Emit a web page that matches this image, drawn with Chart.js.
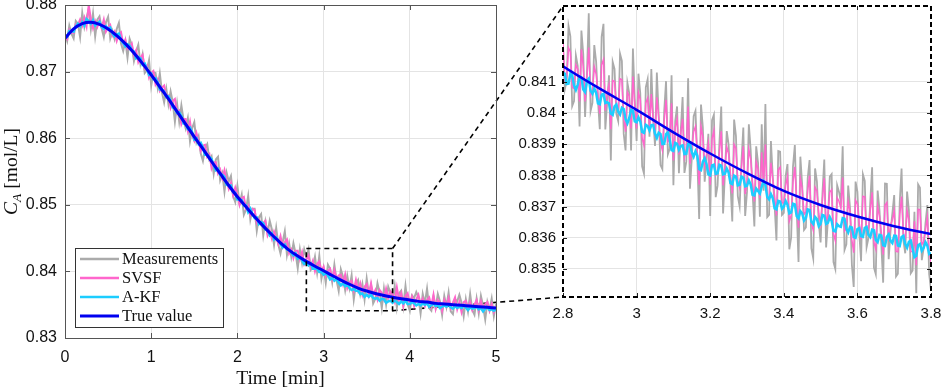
<!DOCTYPE html>
<html>
<head>
<meta charset="utf-8">
<script src="https://cdn.jsdelivr.net/npm/chart.js@4.4.1/dist/chart.umd.min.js"></script>
<style>
  html, body { margin: 0; padding: 0; background: #fff; }
  #wrap { position: relative; width: 941px; height: 389px; }
  #wrap canvas { position: absolute; left: 0; top: 0; }
</style>
</head>
<body>
<div id="wrap">
  <canvas id="mainChart" width="941" height="389"></canvas>
  <canvas id="zoomChart" width="941" height="389"></canvas>
</div>
<script>
// ---- data ----
const seriesLabels = ['Measurements', 'SVSF', 'A-KF', 'True value'];

// true concentration, one value every 0.1 min from 0 to 5
const trueStep = 0.1;
const trueValue = [
  0.8750, 0.8764, 0.8772, 0.8774, 0.8771, 0.8764, 0.8754, 0.8742, 0.8728, 0.8712,
  0.8695, 0.8677, 0.8659, 0.8640, 0.8621, 0.8602, 0.8584, 0.8565, 0.8547, 0.8529,
  0.8512, 0.8497, 0.8482, 0.8468, 0.8455, 0.8443, 0.8432, 0.8423, 0.84150, 0.84078,
  0.84010, 0.83938, 0.83870, 0.83807, 0.83750, 0.83705, 0.83668, 0.83637, 0.83612, 0.8359,
  0.8357, 0.8355, 0.8354, 0.8352, 0.8351, 0.8350, 0.8349, 0.8348, 0.8347, 0.8346,
  0.8345
];

// full run, one sample every 0.025 min
const mainStep = 0.025;
const mainMeas = [
  0.8756, 0.8746, 0.8769, 0.8757, 0.8750, 0.8776, 0.8772, 0.8752,
  0.8788, 0.8767, 0.8781, 0.8794, 0.8764, 0.8787, 0.8753, 0.8778,
  0.8783, 0.8765, 0.8752, 0.8774, 0.8782, 0.8750, 0.8761, 0.8749,
  0.8764, 0.8773, 0.8742, 0.8731, 0.8746, 0.8721, 0.8749, 0.8740,
  0.8716, 0.8730, 0.8740, 0.8712, 0.8726, 0.8698, 0.8702, 0.8717,
  0.8679, 0.8699, 0.8698, 0.8676, 0.8697, 0.8669, 0.8654, 0.8674,
  0.8651, 0.8670, 0.8654, 0.8625, 0.8652, 0.8625, 0.8649, 0.8628,
  0.8615, 0.8630, 0.8596, 0.8615, 0.8624, 0.8594, 0.8603, 0.8577,
  0.8566, 0.8585, 0.8591, 0.8568, 0.8573, 0.8547, 0.8568, 0.8572,
  0.8537, 0.8547, 0.8520, 0.8548, 0.8535, 0.8543, 0.8513, 0.8504,
  0.8528, 0.8502, 0.8515, 0.8485, 0.8493, 0.8513, 0.8478, 0.8494,
  0.8494, 0.8461, 0.8481, 0.8486, 0.8454, 0.8475, 0.8458, 0.8476,
  0.8463, 0.8440, 0.8465, 0.8440, 0.8427, 0.8444, 0.8460, 0.8425,
  0.8442, 0.8422, 0.8442, 0.8427, 0.8405, 0.8433, 0.8413, 0.8433,
  0.8421, 0.8433, 0.8402, 0.8406, 0.8422, 0.8398, 0.8423, 0.8389,
  0.8405, 0.8383, 0.8410, 0.8404, 0.8384, 0.8410, 0.8387, 0.8371,
  0.8403, 0.8392, 0.8372, 0.8393, 0.8375, 0.8394, 0.8358, 0.8381,
  0.8387, 0.8366, 0.8381, 0.8358, 0.8389, 0.8366, 0.8379, 0.8352,
  0.8359, 0.8382, 0.8368, 0.8345, 0.8374, 0.8351, 0.8377, 0.8368,
  0.8357, 0.8378, 0.8346, 0.8367, 0.8371, 0.8348, 0.8378, 0.8351,
  0.8341, 0.8364, 0.8360, 0.8369, 0.8361, 0.8337, 0.8366, 0.8352,
  0.8374, 0.8345, 0.8341, 0.8362, 0.8346, 0.8366, 0.8355, 0.8335,
  0.8363, 0.8347, 0.8368, 0.8340, 0.8336, 0.8358, 0.8355, 0.8365,
  0.8353, 0.8333, 0.8358, 0.8340, 0.8366, 0.8342, 0.8335, 0.8359,
  0.8337, 0.8363, 0.8348, 0.8328, 0.8354, 0.8342, 0.8359, 0.8333,
  0.8351
];
const mainSvsf = [
  0.8753, 0.8749, 0.8763, 0.8759, 0.8758, 0.8771, 0.8770, 0.8778,
  0.8769, 0.8781, 0.8768, 0.8800, 0.8779, 0.8765, 0.8776, 0.8767,
  0.8777, 0.8766, 0.8778, 0.8760, 0.8766, 0.8770, 0.8754, 0.8760,
  0.8746, 0.8756, 0.8759, 0.8742, 0.8748, 0.8734, 0.8737, 0.8742,
  0.8725, 0.8732, 0.8714, 0.8721, 0.8725, 0.8705, 0.8709, 0.8691,
  0.8698, 0.8701, 0.8681, 0.8688, 0.8671, 0.8676, 0.8679, 0.8662,
  0.8664, 0.8646, 0.8656, 0.8659, 0.8637, 0.8641, 0.8621, 0.8629,
  0.8629, 0.8611, 0.8625, 0.8604, 0.8596, 0.8608, 0.8595, 0.8581,
  0.8589, 0.8590, 0.8572, 0.8576, 0.8555, 0.8564, 0.8564, 0.8547,
  0.8553, 0.8540, 0.8552, 0.8536, 0.8524, 0.8533, 0.8515, 0.8526,
  0.8515, 0.8500, 0.8510, 0.8512, 0.8494, 0.8499, 0.8485, 0.8494,
  0.8492, 0.8473, 0.8478, 0.8470, 0.8473, 0.8476, 0.8454, 0.8461,
  0.8449, 0.8460, 0.8451, 0.8441, 0.8453, 0.8437, 0.8444, 0.8448,
  0.8427, 0.8433, 0.8420, 0.8431, 0.8431, 0.8418, 0.8429, 0.8411,
  0.8418, 0.8424, 0.8407, 0.8416, 0.8400, 0.8411, 0.8415, 0.8400,
  0.8407, 0.8393, 0.8401, 0.8404, 0.8389, 0.8402, 0.8389, 0.8394,
  0.8395, 0.8381, 0.8395, 0.8375, 0.8384, 0.8386, 0.8372, 0.8387,
  0.8372, 0.8382, 0.8365, 0.8377, 0.8381, 0.8365, 0.8382, 0.8365,
  0.8372, 0.8358, 0.8372, 0.8368, 0.8358, 0.8374, 0.8360, 0.8370,
  0.8366, 0.8355, 0.8376, 0.8357, 0.8367, 0.8348, 0.8363, 0.8367,
  0.8352, 0.8362, 0.8348, 0.8358, 0.8365, 0.8352, 0.8359, 0.8348,
  0.8357, 0.8361, 0.8348, 0.8365, 0.8344, 0.8357, 0.8353, 0.8341,
  0.8357, 0.8348, 0.8360, 0.8345, 0.8353, 0.8361, 0.8343, 0.8354,
  0.8339, 0.8354, 0.8356, 0.8345, 0.8354, 0.8342, 0.8350, 0.8357,
  0.8342, 0.8355, 0.8343, 0.8351, 0.8354, 0.8341, 0.8351, 0.8339,
  0.8348
];
const mainAkf = [
  0.8752, 0.8752, 0.8761, 0.8761, 0.8760, 0.8768, 0.8772, 0.8768,
  0.8774, 0.8769, 0.8779, 0.8776, 0.8772, 0.8777, 0.8769, 0.8772,
  0.8775, 0.8767, 0.8764, 0.8768, 0.8764, 0.8766, 0.8757, 0.8753,
  0.8756, 0.8757, 0.8748, 0.8743, 0.8738, 0.8741, 0.8739, 0.8732,
  0.8730, 0.8720, 0.8722, 0.8720, 0.8710, 0.8712, 0.8704, 0.8695,
  0.8697, 0.8689, 0.8690, 0.8684, 0.8673, 0.8673, 0.8670, 0.8662,
  0.8663, 0.8656, 0.8646, 0.8645, 0.8638, 0.8639, 0.8633, 0.8622,
  0.8621, 0.8614, 0.8616, 0.8609, 0.8598, 0.8600, 0.8591, 0.8593,
  0.8586, 0.8575, 0.8575, 0.8572, 0.8569, 0.8559, 0.8552, 0.8554,
  0.8545, 0.8545, 0.8542, 0.8530, 0.8529, 0.8529, 0.8519, 0.8518,
  0.8508, 0.8508, 0.8507, 0.8499, 0.8499, 0.8489, 0.8494, 0.8486,
  0.8480, 0.8481, 0.8471, 0.8474, 0.8472, 0.8463, 0.8462, 0.8454,
  0.8457, 0.8448, 0.8451, 0.8446, 0.8441, 0.8436, 0.8440, 0.8433,
  0.8432, 0.8428, 0.8424, 0.8427, 0.8419, 0.8421, 0.8417, 0.8411,
  0.8413, 0.8409, 0.8412, 0.8404, 0.8404, 0.8404, 0.8399, 0.8399,
  0.8395, 0.8397, 0.8394, 0.8388, 0.8390, 0.8386, 0.8389, 0.8383,
  0.8379, 0.8382, 0.8378, 0.8381, 0.8375, 0.8372, 0.8374, 0.8371,
  0.8371, 0.8366, 0.8367, 0.8362, 0.8365, 0.8362, 0.8365, 0.8360,
  0.8359, 0.8360, 0.8356, 0.8359, 0.8358, 0.8353, 0.8355, 0.8356,
  0.8353, 0.8356, 0.8354, 0.8351, 0.8355, 0.8352, 0.8356, 0.8351,
  0.8351, 0.8354, 0.8352, 0.8349, 0.8351, 0.8349, 0.8352, 0.8350,
  0.8352, 0.8347, 0.8349, 0.8352, 0.8348, 0.8350, 0.8345, 0.8347,
  0.8349, 0.8347, 0.8350, 0.8346, 0.8344, 0.8348, 0.8345, 0.8347,
  0.8345, 0.8349, 0.8346, 0.8342, 0.8346, 0.8344, 0.8345, 0.8347,
  0.8343, 0.8345, 0.8340, 0.8344, 0.8346, 0.8342, 0.8343, 0.8341,
  0.8343
];

// zoomed window 2.8 - 3.8 min, one sample every 0.005 min
const zoomStart = 2.8;
const zoomStep = 0.005;
const zoomMeas = [
  0.84210, 0.84076, 0.84103, 0.84279, 0.84246, 0.84022, 0.84038, 0.84184, 0.84151, 0.83957,
  0.84264, 0.84190, 0.83987, 0.84123, 0.84320, 0.84006, 0.84032, 0.84218, 0.84165, 0.84041,
  0.83948, 0.84244, 0.84286, 0.83947, 0.84034, 0.84121, 0.83848, 0.84164, 0.84141, 0.83997,
  0.83974, 0.84190, 0.84167, 0.83933, 0.83880, 0.84097, 0.84064, 0.83880, 0.84207, 0.84043,
  0.83910, 0.84126, 0.84063, 0.83829, 0.83806, 0.84082, 0.84108, 0.83924, 0.84141, 0.83987,
  0.83894, 0.84130, 0.83997, 0.83833, 0.83820, 0.84006, 0.84102, 0.83868, 0.83885, 0.84121,
  0.83768, 0.83974, 0.84021, 0.83807, 0.83944, 0.84051, 0.83808, 0.83844, 0.84111, 0.83757,
  0.83854, 0.83990, 0.84007, 0.83853, 0.83660, 0.84027, 0.83954, 0.83780, 0.83847, 0.83933,
  0.83670, 0.83977, 0.83994, 0.83730, 0.83767, 0.83904, 0.84021, 0.83678, 0.83805, 0.83942,
  0.83899, 0.83775, 0.83652, 0.83979, 0.83926, 0.83733, 0.83700, 0.83846, 0.83953, 0.83670,
  0.83747, 0.83964, 0.83881, 0.83748, 0.83636, 0.83893, 0.83840, 0.83667, 0.83964, 0.83751,
  0.84029, 0.83666, 0.83673, 0.83910, 0.83797, 0.83704, 0.83591, 0.83878, 0.83876, 0.83673,
  0.83680, 0.83798, 0.83836, 0.83563, 0.83601, 0.83829, 0.83897, 0.83694, 0.83522, 0.83860,
  0.83768, 0.83625, 0.83633, 0.83791, 0.83849, 0.83566, 0.83534, 0.83822, 0.83780, 0.83647,
  0.83585, 0.83743, 0.83851, 0.83569, 0.83658, 0.83796, 0.83804, 0.83522, 0.83500, 0.83768,
  0.83747, 0.83715, 0.83893, 0.83561, 0.83579, 0.83767, 0.83695, 0.83513, 0.83442, 0.83780,
  0.83748, 0.83616, 0.83525, 0.83803, 0.83782, 0.83570, 0.83599, 0.83717, 0.83826, 0.83504,
  0.83483, 0.83751, 0.83689, 0.83577, 0.83456, 0.83774, 0.83773, 0.83531, 0.83620, 0.83678,
  0.83737, 0.83476, 0.83485, 0.83713, 0.83822, 0.83591, 0.83550, 0.83748, 0.83687, 0.83486,
  0.83495, 0.83683, 0.83422, 0.83771, 0.83760, 0.83528, 0.83567, 0.83646, 0.83705, 0.83483,
  0.83432
];
const zoomSvsf = [
  0.84230, 0.84106, 0.84113, 0.84209, 0.84196, 0.84082, 0.84078, 0.84154, 0.84141, 0.84037,
  0.84204, 0.84150, 0.84037, 0.84113, 0.84210, 0.84056, 0.84072, 0.84148, 0.84125, 0.84061,
  0.83998, 0.84154, 0.84171, 0.84007, 0.84064, 0.84091, 0.83948, 0.84104, 0.84101, 0.84027,
  0.84004, 0.84110, 0.84107, 0.83983, 0.83940, 0.84067, 0.84054, 0.83950, 0.84117, 0.84023,
  0.83950, 0.84066, 0.84043, 0.83919, 0.83896, 0.84032, 0.84048, 0.83954, 0.84061, 0.83977,
  0.83924, 0.84050, 0.83987, 0.83903, 0.83880, 0.83976, 0.84042, 0.83908, 0.83915, 0.84031,
  0.83848, 0.83954, 0.83981, 0.83867, 0.83934, 0.83981, 0.83858, 0.83884, 0.84021, 0.83837,
  0.83884, 0.83940, 0.83957, 0.83873, 0.83770, 0.83957, 0.83924, 0.83830, 0.83867, 0.83903,
  0.83770, 0.83917, 0.83944, 0.83800, 0.83807, 0.83874, 0.83941, 0.83768, 0.83825, 0.83892,
  0.83869, 0.83805, 0.83742, 0.83899, 0.83886, 0.83783, 0.83760, 0.83826, 0.83893, 0.83740,
  0.83777, 0.83884, 0.83851, 0.83778, 0.83716, 0.83843, 0.83820, 0.83727, 0.83874, 0.83771,
  0.83899, 0.83726, 0.83723, 0.83840, 0.83787, 0.83734, 0.83671, 0.83818, 0.83826, 0.83713,
  0.83710, 0.83768, 0.83796, 0.83653, 0.83671, 0.83779, 0.83827, 0.83714, 0.83632, 0.83790,
  0.83758, 0.83675, 0.83683, 0.83751, 0.83799, 0.83646, 0.83624, 0.83762, 0.83750, 0.83677,
  0.83645, 0.83723, 0.83791, 0.83639, 0.83678, 0.83746, 0.83754, 0.83612, 0.83590, 0.83728,
  0.83717, 0.83695, 0.83793, 0.83621, 0.83629, 0.83717, 0.83685, 0.83593, 0.83552, 0.83720,
  0.83708, 0.83646, 0.83595, 0.83733, 0.83732, 0.83620, 0.83629, 0.83687, 0.83746, 0.83584,
  0.83563, 0.83701, 0.83669, 0.83617, 0.83546, 0.83704, 0.83713, 0.83591, 0.83640, 0.83658,
  0.83687, 0.83556, 0.83555, 0.83673, 0.83732, 0.83611, 0.83590, 0.83688, 0.83657, 0.83556,
  0.83555, 0.83653, 0.83512, 0.83691, 0.83690, 0.83578, 0.83587, 0.83626, 0.83665, 0.83553,
  0.83522
];
const zoomAkf = [
  0.84130, 0.84126, 0.84093, 0.84094, 0.84126, 0.84122, 0.84088, 0.84074, 0.84091, 0.84117,
  0.84114, 0.84075, 0.84067, 0.84103, 0.84110, 0.84071, 0.84062, 0.84078, 0.84065, 0.84031,
  0.84028, 0.84059, 0.84061, 0.84032, 0.84034, 0.84031, 0.83998, 0.83994, 0.84021, 0.84027,
  0.84004, 0.83995, 0.84017, 0.84013, 0.83980, 0.83967, 0.83984, 0.84010, 0.84007, 0.83973,
  0.83970, 0.83986, 0.83973, 0.83939, 0.83936, 0.83962, 0.83958, 0.83944, 0.83961, 0.83962,
  0.83934, 0.83920, 0.83937, 0.83933, 0.83900, 0.83901, 0.83932, 0.83938, 0.83915, 0.83881,
  0.83878, 0.83904, 0.83901, 0.83882, 0.83894, 0.83896, 0.83868, 0.83869, 0.83901, 0.83902,
  0.83874, 0.83860, 0.83877, 0.83863, 0.83820, 0.83817, 0.83844, 0.83855, 0.83837, 0.83803,
  0.83800, 0.83832, 0.83834, 0.83805, 0.83807, 0.83834, 0.83831, 0.83803, 0.83805, 0.83822,
  0.83809, 0.83775, 0.83772, 0.83799, 0.83796, 0.83768, 0.83770, 0.83796, 0.83793, 0.83765,
  0.83767, 0.83784, 0.83771, 0.83738, 0.83736, 0.83758, 0.83750, 0.83742, 0.83764, 0.83781,
  0.83769, 0.83731, 0.83723, 0.83740, 0.83727, 0.83694, 0.83691, 0.83718, 0.83716, 0.83693,
  0.83700, 0.83718, 0.83706, 0.83678, 0.83681, 0.83709, 0.83707, 0.83669, 0.83662, 0.83685,
  0.83678, 0.83655, 0.83663, 0.83691, 0.83689, 0.83651, 0.83644, 0.83667, 0.83660, 0.83637,
  0.83645, 0.83673, 0.83671, 0.83644, 0.83648, 0.83666, 0.83654, 0.83622, 0.83620, 0.83643,
  0.83637, 0.83635, 0.83663, 0.83661, 0.83629, 0.83617, 0.83635, 0.83633, 0.83602, 0.83600,
  0.83628, 0.83631, 0.83605, 0.83603, 0.83632, 0.83635, 0.83609, 0.83602, 0.83626, 0.83624,
  0.83593, 0.83586, 0.83609, 0.83607, 0.83576, 0.83574, 0.83603, 0.83611, 0.83590, 0.83583,
  0.83607, 0.83606, 0.83575, 0.83573, 0.83602, 0.83606, 0.83580, 0.83568, 0.83587, 0.83591,
  0.83565, 0.83538, 0.83542, 0.83576, 0.83580, 0.83558, 0.83567, 0.83586, 0.83575, 0.83548,
  0.83552
];

// axes
const mainXTicks = [0, 1, 2, 3, 4, 5];
const mainYTicks = [0.83, 0.84, 0.85, 0.86, 0.87, 0.88];
const zoomXTicks = [2.8, 3, 3.2, 3.4, 3.6, 3.8];
const zoomYTicks = [0.835, 0.836, 0.837, 0.838, 0.839, 0.84, 0.841];
const zoomX = [2.8, 3.8];
const zoomY = [0.8341, 0.84343];

const colors = ['#ababab', '#ff66cc', '#1ccdff', '#0000f0'];
const mainWidths = [2, 2, 2.5, 3];
const zoomWidths = [1.8, 1.5, 2.5, 2.5];

Chart.defaults.font.family = "'Liberation Sans', Arial, sans-serif";
Chart.defaults.color = '#111';

const toPts = (vals, start, step) => vals.map((v, i) => ({ x: start + i * step, y: v }));
const fmt = v => String(+v.toFixed(3));
const noEdge = n => c => (c.index === 0 || c.index === n - 1) ? 'rgba(0,0,0,0)' : '#e4e4e4';
// keep tick labels from shrinking the plot area
const fixSize = (prop, px) => s => {
  s[prop] = px;
  s.paddingTop = 0; s.paddingBottom = 0; s.paddingLeft = 0; s.paddingRight = 0;
};

function makeDatasets(meas, svsf, akf, start, step, widths) {
  const sets = [meas, svsf, akf].map((vals, k) => ({
    label: seriesLabels[k],
    data: toPts(vals, start, step),
    borderColor: colors[k],
    borderWidth: widths[k],
    pointRadius: 0,
    tension: 0,
    order: 4 - k
  }));
  sets.push({
    label: seriesLabels[3],
    data: toPts(trueValue, 0, trueStep),
    borderColor: colors[3],
    borderWidth: widths[3],
    pointRadius: 0,
    cubicInterpolationMode: 'monotone',
    order: 1
  });
  return sets;
}

function inwardTicks(ctx, chart, len) {
  const a = chart.chartArea, xs = chart.scales.x, ys = chart.scales.y;
  ctx.beginPath();
  xs.ticks.forEach(t => {
    const px = Math.round(xs.getPixelForValue(t.value)) + 0.5;
    ctx.moveTo(px, a.bottom); ctx.lineTo(px, a.bottom - len);
    ctx.moveTo(px, a.top); ctx.lineTo(px, a.top + len);
  });
  ys.ticks.forEach(t => {
    const py = Math.round(ys.getPixelForValue(t.value)) + 0.5;
    ctx.moveTo(a.left, py); ctx.lineTo(a.left + len, py);
    ctx.moveTo(a.right, py); ctx.lineTo(a.right - len, py);
  });
  ctx.stroke();
}

// ---- right panel (zoom) ----
const zoomDecor = {
  id: 'zoomDecor',
  afterDatasetsDraw(chart) {
    const ctx = chart.ctx, a = chart.chartArea;
    ctx.save();
    ctx.strokeStyle = '#222'; ctx.lineWidth = 1;
    inwardTicks(ctx, chart, 4);
    ctx.strokeStyle = '#000'; ctx.lineWidth = 2; ctx.setLineDash([5, 3]);
    ctx.strokeRect(a.left, a.top, a.right - a.left, a.bottom - a.top);
    ctx.restore();
  }
};

const zoomChart = new Chart(document.getElementById('zoomChart'), {
  type: 'line',
  data: { datasets: makeDatasets(zoomMeas, zoomSvsf, zoomAkf, zoomStart, zoomStep, zoomWidths) },
  options: {
    responsive: false,
    animation: false,
    devicePixelRatio: 1,
    layout: { padding: { left: 0, top: 6, right: 10, bottom: 0 } },
    plugins: { legend: { display: false }, tooltip: { enabled: false } },
    scales: {
      x: {
        type: 'linear', min: zoomX[0], max: zoomX[1],
        afterBuildTicks: s => { s.ticks = zoomXTicks.map(v => ({ value: v })); },
        afterFit: fixSize('height', 92),
        ticks: { callback: fmt, font: { size: 15 }, padding: 8, maxRotation: 0 },
        grid: { color: noEdge(zoomXTicks.length), drawTicks: false },
        border: { display: false }
      },
      y: {
        min: zoomY[0], max: zoomY[1],
        afterBuildTicks: s => { s.ticks = zoomYTicks.map(v => ({ value: v })); },
        afterFit: fixSize('width', 563),
        ticks: { callback: fmt, font: { size: 15 }, padding: 7 },
        grid: { color: '#e4e4e4', drawTicks: false },
        border: { display: false }
      }
    }
  },
  plugins: [zoomDecor]
});

// ---- left panel (full run) ----
const mainDecor = {
  id: 'mainDecor',
  beforeDatasetsDraw(chart) {
    // connector lines from the zoom box to the right panel
    const ctx = chart.ctx, xs = chart.scales.x, ys = chart.scales.y, za = zoomChart.chartArea;
    const x1 = xs.getPixelForValue(zoomX[1]);
    ctx.save();
    ctx.strokeStyle = '#000'; ctx.lineWidth = 1.6; ctx.setLineDash([5, 4]);
    ctx.beginPath();
    ctx.moveTo(x1, ys.getPixelForValue(zoomY[1])); ctx.lineTo(za.left, za.top);
    ctx.moveTo(x1, ys.getPixelForValue(zoomY[0])); ctx.lineTo(za.left, za.bottom);
    ctx.stroke();
    ctx.restore();
  },
  afterDatasetsDraw(chart) {
    const ctx = chart.ctx, a = chart.chartArea, xs = chart.scales.x, ys = chart.scales.y;
    ctx.save();
    // zoom box
    const bx0 = xs.getPixelForValue(zoomX[0]), bx1 = xs.getPixelForValue(zoomX[1]);
    const by0 = ys.getPixelForValue(zoomY[1]), by1 = ys.getPixelForValue(zoomY[0]);
    ctx.strokeStyle = '#000'; ctx.lineWidth = 1.6; ctx.setLineDash([5, 4]);
    ctx.strokeRect(bx0, by0, bx1 - bx0, by1 - by0);
    ctx.setLineDash([]);
    // axes box and inward ticks
    ctx.strokeStyle = '#555'; ctx.lineWidth = 1;
    inwardTicks(ctx, chart, 5);
    ctx.strokeRect(Math.round(a.left) + 0.5, Math.round(a.top) + 0.5,
      Math.round(a.right - a.left), Math.round(a.bottom - a.top));
    ctx.restore();
  },
  afterDraw(chart) {
    const ctx = chart.ctx, a = chart.chartArea;
    ctx.save();
    // legend
    const lx = 75, ly = 248, lw = 148, lh = 79;
    ctx.fillStyle = '#fff';
    ctx.fillRect(lx, ly, lw, lh);
    ctx.strokeStyle = '#333'; ctx.lineWidth = 1;
    ctx.strokeRect(lx + 0.5, ly + 0.5, lw, lh);
    ctx.font = "16.5px 'Liberation Serif', 'Times New Roman', serif";
    ctx.textBaseline = 'middle'; ctx.textAlign = 'left';
    chart.data.datasets.forEach((d, k) => {
      const y = ly + 11 + k * 19;
      ctx.strokeStyle = d.borderColor; ctx.lineWidth = Math.max(2.5, d.borderWidth);
      ctx.beginPath(); ctx.moveTo(lx + 5, y); ctx.lineTo(lx + 44, y); ctx.stroke();
      ctx.fillStyle = '#111';
      ctx.fillText(d.label, lx + 47, y + 1);
    });
    // x title
    ctx.fillStyle = '#111';
    ctx.font = "19.5px 'Liberation Serif', 'Times New Roman', serif";
    ctx.textAlign = 'center'; ctx.textBaseline = 'alphabetic';
    ctx.fillText('Time [min]', (a.left + a.right) / 2, 384);
    // y title: C_A [mol/L]
    ctx.translate(17, (a.top + a.bottom) / 2);
    ctx.rotate(-Math.PI / 2);
    ctx.textAlign = 'left';
    const big = "italic 19.5px 'Liberation Serif', 'Times New Roman', serif";
    const sub = "italic 13.5px 'Liberation Serif', 'Times New Roman', serif";
    const reg = "19.5px 'Liberation Serif', 'Times New Roman', serif";
    ctx.font = big; const wC = ctx.measureText('C').width;
    ctx.font = sub; const wA = ctx.measureText('A').width;
    ctx.font = reg; const wU = ctx.measureText(' [mol/L]').width;
    let x = -(wC + wA + wU) / 2;
    ctx.font = big; ctx.fillText('C', x, 0); x += wC;
    ctx.font = sub; ctx.fillText('A', x, 4); x += wA;
    ctx.font = reg; ctx.fillText(' [mol/L]', x, 0);
    ctx.restore();
  }
};

const mainChart = new Chart(document.getElementById('mainChart'), {
  type: 'line',
  data: { datasets: makeDatasets(mainMeas, mainSvsf, mainAkf, 0, mainStep, mainWidths) },
  options: {
    responsive: false,
    animation: false,
    devicePixelRatio: 1,
    layout: { padding: { left: 0, top: 5, right: 445, bottom: 0 } },
    plugins: { legend: { display: false }, tooltip: { enabled: false } },
    scales: {
      x: {
        type: 'linear', min: 0, max: 5,
        afterBuildTicks: s => { s.ticks = mainXTicks.map(v => ({ value: v })); },
        afterFit: fixSize('height', 51),
        ticks: { callback: fmt, font: { size: 16 }, padding: 10, maxRotation: 0 },
        grid: { color: noEdge(mainXTicks.length), drawTicks: false },
        border: { display: false }
      },
      y: {
        min: 0.83, max: 0.88,
        afterBuildTicks: s => { s.ticks = mainYTicks.map(v => ({ value: v })); },
        afterFit: fixSize('width', 65),
        ticks: { callback: fmt, font: { size: 16 }, padding: 8 },
        grid: { color: noEdge(mainYTicks.length), drawTicks: false },
        border: { display: false }
      }
    }
  },
  plugins: [mainDecor]
});
</script>
</body>
</html>
